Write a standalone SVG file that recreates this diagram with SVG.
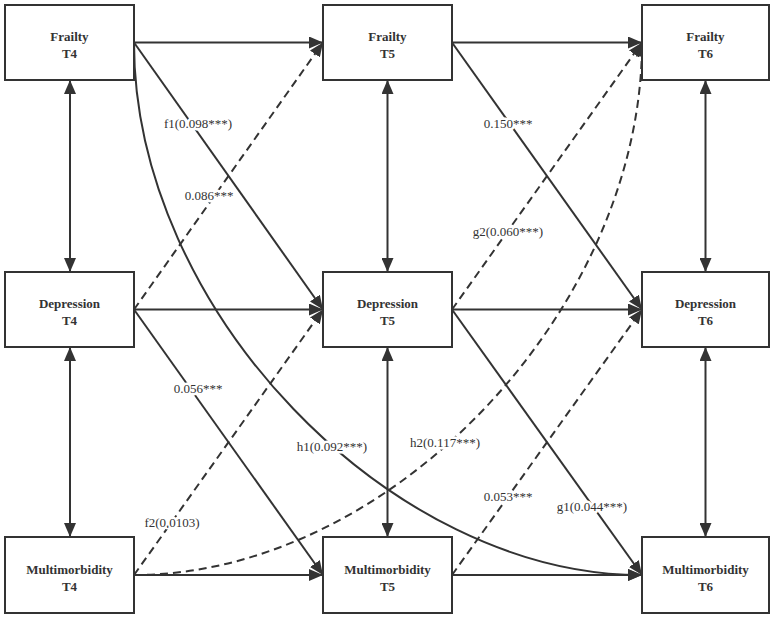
<svg xmlns="http://www.w3.org/2000/svg" width="776" height="619" viewBox="0 0 776 619">
<style>
.box{fill:#fff;stroke:#333;stroke-width:2}
.nt{font-family:"Liberation Serif","Times New Roman",serif;font-size:13px;font-weight:bold;fill:#333;text-anchor:middle}
.c{fill:none;stroke:#333;stroke-width:2}
.d{stroke-dasharray:8 5}
.lb{font-family:"Liberation Serif","Times New Roman",serif;font-size:13px;fill:#333;text-anchor:middle;stroke:#fff;stroke-width:5;paint-order:stroke;stroke-linejoin:round}
</style>
<defs>
<marker id="ah" viewBox="0 0 14 12" refX="14" refY="6" markerWidth="14" markerHeight="12" markerUnits="userSpaceOnUse" orient="auto-start-reverse"><path d="M0,0 L14,6 L0,12 Z" fill="#333"/></marker>
</defs>
<rect width="776" height="619" fill="#fff"/>
<g id="connectors">
<line class="c" x1="134" y1="42.5" x2="323" y2="42.5" marker-end="url(#ah)"/>
<line class="c" x1="452" y1="42.5" x2="642" y2="42.5" marker-end="url(#ah)"/>
<line class="c" x1="134" y1="309.5" x2="323" y2="309.5" marker-end="url(#ah)"/>
<line class="c" x1="452" y1="309.5" x2="642" y2="309.5" marker-end="url(#ah)"/>
<line class="c" x1="134" y1="575" x2="323" y2="575" marker-end="url(#ah)"/>
<line class="c" x1="452" y1="575" x2="642" y2="575" marker-end="url(#ah)"/>
<line class="c" x1="70" y1="80" x2="70" y2="272" marker-start="url(#ah)" marker-end="url(#ah)"/>
<line class="c" x1="70" y1="347" x2="70" y2="537" marker-start="url(#ah)" marker-end="url(#ah)"/>
<line class="c" x1="387.5" y1="80" x2="387.5" y2="272" marker-start="url(#ah)" marker-end="url(#ah)"/>
<line class="c" x1="387.5" y1="347" x2="387.5" y2="537" marker-start="url(#ah)" marker-end="url(#ah)"/>
<line class="c" x1="705.5" y1="80" x2="705.5" y2="272" marker-start="url(#ah)" marker-end="url(#ah)"/>
<line class="c" x1="705.5" y1="347" x2="705.5" y2="537" marker-start="url(#ah)" marker-end="url(#ah)"/>
<line class="c" x1="134" y1="42.5" x2="323" y2="309.5" marker-end="url(#ah)"/>
<line class="c d" x1="134" y1="309.5" x2="323" y2="42.5" marker-end="url(#ah)"/>
<line class="c" x1="134" y1="309.5" x2="323" y2="575" marker-end="url(#ah)"/>
<line class="c d" x1="134" y1="575" x2="323" y2="309.5" marker-end="url(#ah)"/>
<line class="c" x1="452" y1="42.5" x2="642" y2="309.5" marker-end="url(#ah)"/>
<line class="c d" x1="452" y1="309.5" x2="642" y2="42.5" marker-end="url(#ah)"/>
<line class="c" x1="452" y1="309.5" x2="642" y2="575" marker-end="url(#ah)"/>
<line class="c d" x1="452" y1="575" x2="642" y2="309.5" marker-end="url(#ah)"/>
<path class="c" d="M134,42.5 C134,310 390,575 642,575" marker-end="url(#ah)"/>
<path class="c d" d="M134,575 C390,575 642,310 642,42.5" marker-end="url(#ah)"/>
</g>
<g id="labels">
<text class="lb" x="198" y="128">f1(0.098***)</text>
<text class="lb" x="209" y="200">0.086***</text>
<text class="lb" x="508" y="128">0.150***</text>
<text class="lb" x="508" y="236">g2(0.060***)</text>
<text class="lb" x="198" y="393">0.056***</text>
<text class="lb" x="332" y="451">h1(0.092***)</text>
<text class="lb" x="445" y="447">h2(0.117***)</text>
<text class="lb" x="508" y="501">0.053***</text>
<text class="lb" x="592" y="511">g1(0.044***)</text>
<text class="lb" x="172" y="527">f2(0.0103)</text>
</g>
<g id="frailty-t4"><rect class="box" x="5" y="5" width="129" height="75"/><text class="nt" x="69.5" y="41">Frailty</text><text class="nt" x="69.5" y="58">T4</text></g>
<g id="frailty-t5"><rect class="box" x="323" y="5" width="129" height="75"/><text class="nt" x="387.5" y="41">Frailty</text><text class="nt" x="387.5" y="58">T5</text></g>
<g id="frailty-t6"><rect class="box" x="642" y="5" width="127" height="75"/><text class="nt" x="705.5" y="41">Frailty</text><text class="nt" x="705.5" y="58">T6</text></g>
<g id="depression-t4"><rect class="box" x="5" y="272" width="129" height="75"/><text class="nt" x="69.5" y="308">Depression</text><text class="nt" x="69.5" y="325">T4</text></g>
<g id="depression-t5"><rect class="box" x="323" y="272" width="129" height="75"/><text class="nt" x="387.5" y="308">Depression</text><text class="nt" x="387.5" y="325">T5</text></g>
<g id="depression-t6"><rect class="box" x="642" y="272" width="127" height="75"/><text class="nt" x="705.5" y="308">Depression</text><text class="nt" x="705.5" y="325">T6</text></g>
<g id="multimorbidity-t4"><rect class="box" x="5" y="537" width="129" height="76"/><text class="nt" x="69.5" y="574">Multimorbidity</text><text class="nt" x="69.5" y="591">T4</text></g>
<g id="multimorbidity-t5"><rect class="box" x="323" y="537" width="129" height="76"/><text class="nt" x="387.5" y="574">Multimorbidity</text><text class="nt" x="387.5" y="591">T5</text></g>
<g id="multimorbidity-t6"><rect class="box" x="642" y="537" width="127" height="76"/><text class="nt" x="705.5" y="574">Multimorbidity</text><text class="nt" x="705.5" y="591">T6</text></g>
</svg>
